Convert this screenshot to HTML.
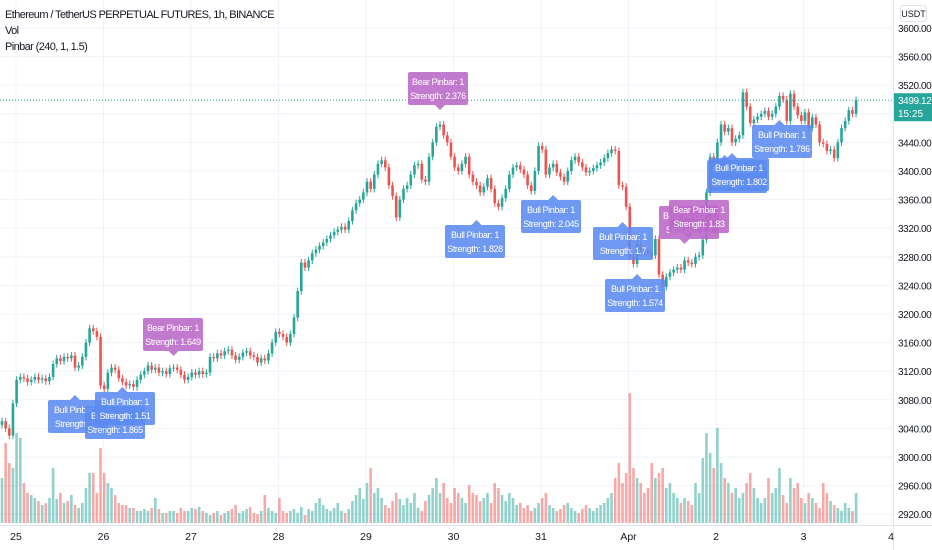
<!DOCTYPE html>
<html><head><meta charset="utf-8">
<style>
html,body{margin:0;padding:0;background:#fff;}
#wrap{position:relative;width:932px;height:550px;overflow:hidden;font-family:"Liberation Sans",sans-serif;}
svg{position:absolute;left:0;top:0;}
.hdr{position:absolute;left:5px;font-size:11px;color:#131722;letter-spacing:-0.6px;}
</style></head>
<body>
<div id="wrap">
<svg id="chart" width="932" height="550"></svg>
<div class="hdr" style="top:9px">Ethereum / TetherUS PERPETUAL FUTURES, 1h, BINANCE</div>
<div class="hdr" style="top:25px">Vol</div>
<div class="hdr" style="top:41px">Pinbar (240, 1, 1.5)</div>
</div>
<script>
const closes=[3050,3040,3030,3075,3108,3112,3110,3105,3108,3112,3108,3110,3106,3112,3130,3138,3134,3140,3138,3142,3125,3128,3140,3160,
3180,3176,3168,3100,3095,3118,3125,3122,3110,3105,3100,3102,3098,3108,3115,3120,3128,3122,3125,3118,3120,3116,3124,3125,
3122,3115,3108,3112,3118,3115,3120,3116,3118,3140,3138,3145,3142,3148,3150,3142,3136,3140,3146,3148,3142,3140,3132,3138,
3135,3145,3160,3175,3172,3168,3160,3172,3195,3232,3272,3265,3275,3285,3290,3295,3300,3305,3310,3315,3318,3322,3318,3330,
3345,3355,3360,3370,3385,3375,3395,3410,3415,3405,3380,3365,3335,3360,3375,3380,3395,3408,3410,3388,3385,3420,3440,3462,
3465,3450,3440,3420,3405,3400,3410,3420,3395,3385,3380,3370,3378,3390,3375,3355,3350,3362,3375,3395,3405,3408,3402,3395,
3380,3372,3400,3435,3430,3395,3405,3410,3398,3392,3385,3400,3415,3420,3412,3405,3398,3400,3404,3408,3412,3418,3425,3430,
3428,3380,3378,3350,3280,3270,3298,3290,3288,3286,3282,3305,3255,3238,3252,3258,3262,3265,3262,3275,3272,3270,3280,3282,
3304,3370,3420,3410,3440,3465,3455,3460,3440,3445,3450,3510,3490,3467,3472,3476,3480,3484,3476,3480,3490,3505,3500,3470,
3508,3490,3478,3470,3482,3460,3475,3465,3440,3438,3428,3430,3418,3440,3460,3470,3485,3480,3499];
const volumes=[45,80,60,55,90,85,40,30,28,25,22,18,20,25,55,24,30,20,22,28,18,15,20,35,
50,50,30,75,50,40,35,28,20,18,18,15,15,12,12,14,12,15,25,14,10,10,12,12,
10,15,12,12,15,14,16,12,10,8,10,12,8,10,12,14,18,10,12,14,16,10,9,12,
28,15,12,10,25,12,10,12,14,10,16,8,14,12,20,25,18,14,12,15,20,12,10,14,
22,28,35,24,40,55,30,35,25,18,15,22,30,24,18,25,20,30,15,12,22,28,35,45,
30,40,25,20,35,30,25,20,38,30,28,22,25,30,20,40,35,28,22,30,25,18,20,15,
18,12,15,20,25,30,18,15,12,14,18,20,15,12,10,14,18,15,12,15,18,20,25,30,
45,60,40,50,130,55,45,40,30,35,60,45,50,55,35,40,30,25,20,25,22,18,40,30,
65,90,70,55,95,60,45,40,30,35,25,30,40,50,35,25,20,25,45,30,35,55,28,20,
45,35,40,25,20,30,25,20,15,40,30,22,18,15,12,20,15,12,30];
const priceTicks=[3600,3560,3520,3440,3400,3360,3320,3280,3240,3200,3160,3120,3080,3040,3000,2960,2920];
const gridPrices=[3600,3560,3520,3480,3440,3400,3360,3320,3280,3240,3200,3160,3120,3080,3040,3000,2960,2920];
const dayLabels=["25","26","27","28","29","30","31","Apr","2","3","4"];
const signals=[
 {i:20,type:"Bull",s:"1.7"},{i:27,type:"Bull",s:"1.865"},{i:33,type:"Bull",s:"1.51"},{i:47,type:"Bear",s:"1.649"},
 {i:120,type:"Bear",s:"2.376"},{i:130,type:"Bull",s:"1.828"},{i:151,type:"Bull",s:"2.045"},{i:170,type:"Bull",s:"1.7"},
 {i:174,type:"Bull",s:"1.574"},{i:187,type:"Bear",s:"1.9"},{i:188,type:"Bear",s:"1.83"},{i:198,type:"Bull",s:"1.7"},
 {i:200,type:"Bull",s:"1.802"},{i:213,type:"Bull",s:"1.786"}];
const boxes=[[48,400],[85,406],[95,392],[143,318],[408,72],[445,225],[521,200],[593,227],[605,279],[659,206],[669,200],[707,160],[709,158],[752,125]];

const svg=document.getElementById('chart');const NS="http://www.w3.org/2000/svg";
function mk(t,a,p){const e=document.createElementNS(NS,t);for(const k in a)e.setAttribute(k,a[k]);(p||svg).appendChild(e);return e;}
const yP=p=>28+(3600-p)*0.715;
const xI=i=>2+i*3.65;
const xDay=d=>16+d*87.5;
const yV=v=>523-v;
gridPrices.forEach(p=>{const l=mk('line',{x1:0,x2:893,y1:yP(p),y2:yP(p),stroke:'#f0f3fa','stroke-width':1});
});
dayLabels.forEach((d,k)=>{const l=mk('line',{x1:xDay(k),x2:xDay(k),y1:0,y2:525,stroke:'#f0f3fa','stroke-width':1});
});
volumes.forEach((v,i)=>{const o=i?closes[i-1]:closes[0]-5;const up=closes[i]>=o;
const r=mk('rect',{x:xI(i)-1.3,y:yV(v),width:2.6,height:v,fill:up?'rgba(38,166,154,0.5)':'rgba(239,83,80,0.5)'});
});
closes.forEach((c,i)=>{const o=i?closes[i-1]:c-5;const up=c>=o;const col=up?'#26a69a':'#ef5350';
const hi=Math.max(o,c)+5,lo=Math.min(o,c)-5;
const g=mk('g',{});
mk('line',{x1:xI(i),x2:xI(i),y1:yP(hi),y2:yP(lo),stroke:col,'stroke-width':1},g);
const t=yP(Math.max(o,c)),b=yP(Math.min(o,c));
mk('rect',{x:xI(i)-1.3,y:t,width:2.6,height:Math.max(1,b-t),fill:col},g);});
const cl=mk('line',{x1:0,x2:893,y1:yP(3499),y2:yP(3499),stroke:'#26a69a','stroke-width':1,'stroke-dasharray':'1,2'});

signals.forEach((s,k)=>{const [bx,by]=boxes[k];const bull=s.type==="Bull";
const g=mk('g',{});
const col=bull?'rgba(91,138,240,0.88)':'rgba(186,104,200,0.88)';const w=60,h=33;
mk('rect',{x:bx,y:by,width:w,height:h,rx:2,fill:col},g);
const px=xI(s.i);
if(bull){mk('polygon',{points:`${px-5},${by} ${px+5},${by} ${px},${by-5}`,fill:col},g);}
else{mk('polygon',{points:`${px-5},${by+h} ${px+5},${by+h} ${px},${by+h+5}`,fill:col},g);}
const t1=mk('text',{x:bx+w/2,y:by+13,'text-anchor':'middle','font-size':'9',fill:'#fff','letter-spacing':'-0.4'},g);t1.textContent=s.type+" Pinbar: 1";
const t2=mk('text',{x:bx+w/2,y:by+27,'text-anchor':'middle','font-size':'9',fill:'#fff','letter-spacing':'-0.4'},g);t2.textContent="Strength: "+s.s;});
const ax=mk('line',{x1:893.5,x2:893.5,y1:0,y2:550,stroke:'#e0e3eb'});
const bx=mk('line',{x1:0,x2:932,y1:525.5,y2:525.5,stroke:'#e0e3eb'});
priceTicks.forEach(p=>{const t=mk('text',{x:898,y:yP(p)+4,'font-size':'10',fill:'#131722','letter-spacing':'-0.4'});
t.textContent=p.toFixed(2);});
dayLabels.forEach((d,k)=>{const t=mk('text',{x:xDay(k),y:540,'text-anchor':'middle','font-size':'10.5',fill:'#131722'});
t.textContent=d;});
const ub=mk('rect',{x:900.5,y:5.5,width:26,height:16,rx:3,fill:'#fff',stroke:'#e0e3eb'});
const ut=mk('text',{x:913.5,y:17,'text-anchor':'middle','font-size':'9',fill:'#131722'});ut.textContent="USDT";
const pt=mk('rect',{x:894,y:yP(3499)-7,width:38,height:28,fill:'#26a69a'});
const p1=mk('text',{x:898,y:yP(3499)+4,'font-size':'10',fill:'#fff','letter-spacing':'-0.4'});p1.textContent="3499.12";
const p2=mk('text',{x:898,y:yP(3499)+17,'font-size':'10',fill:'#fff'});p2.textContent="15:25";
</script>
</body></html>
